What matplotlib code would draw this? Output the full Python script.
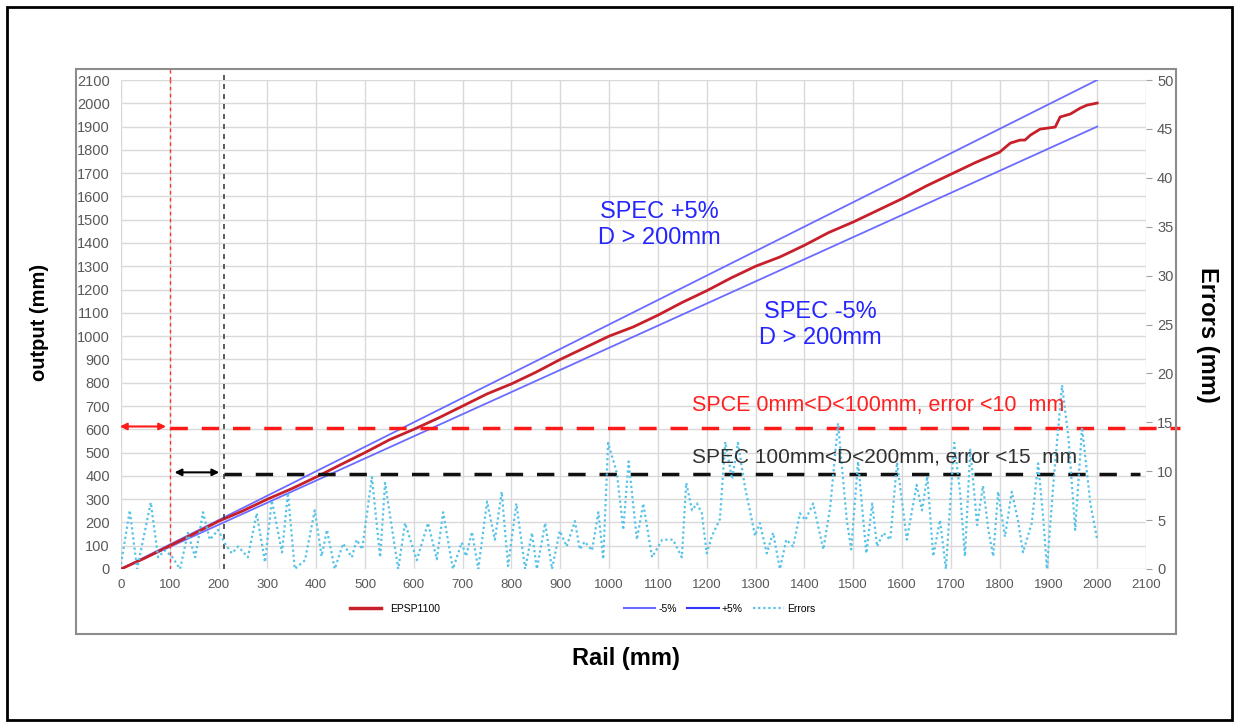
import numpy as np
import matplotlib
matplotlib.use('Agg')
import matplotlib.pyplot as plt
from matplotlib.lines import Line2D
from matplotlib.patches import Rectangle

plt.rcParams['font.family'] = ['Liberation Sans', 'DejaVu Sans']

# measured output (EPSP1100) vs rail position
rail_out = [0, 50, 100, 150, 200, 250, 300, 350, 400, 450, 500, 550, 600, 650, 700, 750,
            800, 850, 900, 950, 1000, 1050, 1100, 1150, 1200, 1250, 1300, 1350, 1400, 1450,
            1500, 1550, 1600, 1650, 1700, 1750, 1800, 1822, 1842, 1852, 1863, 1883, 1914,
            1924, 1945, 1965, 1979, 2000]
output = [0, 48, 100, 152, 205, 250, 300, 345, 395, 448, 500, 555, 600, 648, 700, 752,
          795, 845, 900, 950, 1000, 1040, 1090, 1145, 1195, 1250, 1300, 1340, 1390, 1445,
          1490, 1540, 1590, 1645, 1695, 1745, 1790, 1829, 1842, 1842, 1863, 1889, 1898,
          1941, 1954, 1979, 1992, 2001]

# spec limits
rail_spec = [0, 2000]
minus5 = [0, 1900]
plus5 = [0, 2100]

# errors (right axis)
rail_err = [0, 18, 33, 61, 76, 90, 104, 121, 137, 152, 168, 182, 199, 213, 227, 240, 260,
            278, 295, 309, 330, 342, 356, 377, 397, 411, 422, 438, 455, 473, 483, 494, 514,
            531, 541, 568, 582, 606, 629, 647, 660, 680, 698, 707, 719, 732, 750, 766, 780,
            793, 810, 828, 842, 852, 869, 883, 899, 913, 930, 940, 950, 965, 978, 988, 998,
            1016, 1029, 1040, 1057, 1070, 1088, 1109, 1131, 1149, 1158, 1170, 1180, 1190,
            1200, 1211, 1227, 1238, 1252, 1264, 1278, 1299, 1309, 1323, 1336, 1350, 1363,
            1377, 1391, 1402, 1418, 1439, 1453, 1469, 1487, 1496, 1510, 1527, 1539, 1549,
            1562, 1576, 1590, 1610, 1630, 1641, 1652, 1664, 1678, 1690, 1707, 1719, 1729,
            1740, 1754, 1766, 1777, 1787, 1797, 1811, 1825, 1838, 1848, 1866, 1879, 1890,
            1897, 1910, 1928, 1941, 1955, 1969, 1986, 2000]
errors = [0.5, 6.0, 0, 6.8, 1.2, 1.9, 1.3, 0, 3.7, 1.2, 5.8, 3.0, 4.0, 2.6, 1.6, 2.3, 1.2,
          5.7, 0.7, 7.0, 1.7, 7.8, 0, 0.9, 6.0, 1.3, 4.0, 0, 2.6, 1.2, 3.0, 2.0, 9.4,
          1.2, 8.8, 0, 4.7, 0.9, 4.7, 1.0, 5.8, 0, 2.7, 1.3, 3.8, 0, 6.9, 3.0, 7.9,
          0.3, 6.7, 0, 3.7, 0, 4.7, 0, 3.9, 2.3, 4.9, 2.0, 2.8, 1.9, 5.8, 1.0, 12.9,
          9.8, 4.0, 11.0, 3.0, 6.7, 1.2, 3.0, 3.0, 1.2, 8.8, 6.0, 6.7, 5.7,
          1.6, 3.4, 5.1, 13.0, 9.2, 12.9, 8.5, 3.4, 4.7, 1.6, 3.7, 0, 3.0,
          2.3, 5.7, 5.0, 6.7, 2.0, 6.3, 14.9, 5.0, 2.0, 11.0, 1.6, 6.7, 2.3,
          3.7, 3.0, 10.9, 3.0, 8.6, 6.0, 9.5, 1.3, 5.0, 0, 12.9, 7.9, 1.3,
          12.2, 4.5, 8.5, 4.0, 1.3, 7.9, 3.3, 7.9, 4.9, 1.7, 4.7, 10.8, 4.9,
          0, 8.6, 18.8, 13.5, 4.0, 14.5, 6.7, 3.0]

W, H = 1239, 726
fig = plt.figure(figsize=(W / 100, H / 100), dpi=100)

def fx(x):
    return x / W

def fy(y):
    return 1 - y / H

# outer frame and chart box
fig.patches.append(Rectangle((fx(7), fy(720)), fx(1232) - fx(7), fy(7) - fy(720),
                             transform=fig.transFigure, fill=False, ec='black', lw=2))
fig.patches.append(Rectangle((fx(76), fy(634)), fx(1176) - fx(76), fy(69) - fy(634),
                             transform=fig.transFigure, fill=False, ec='#8c8c8c', lw=1.5))

ax = fig.add_axes([fx(121), fy(569), fx(1146) - fx(121), fy(80) - fy(569)])
ax2 = ax.twinx()

ax.set_xlim(0, 2100)
ax.set_ylim(0, 2100)
ax2.set_ylim(0, 50)
ax.set_xticks(np.arange(0, 2101, 100))
ax.set_yticks(np.arange(0, 2101, 100))
ax2.set_yticks(np.arange(0, 51, 5))
ax.grid(True, color='#d9d9d9', lw=1)
ax.set_axisbelow(True)
for a in (ax, ax2):
    for s in a.spines.values():
        s.set_visible(False)
ax.tick_params(axis='x', length=0, labelsize=9.5, labelcolor='#595959', pad=7)
ax.tick_params(axis='y', length=0, labelsize=10.5, labelcolor='#595959', pad=8)
ax2.tick_params(axis='y', length=4, color='#a0a0a0', labelsize=10.5, labelcolor='#595959', pad=4)

ax.plot(rail_spec, minus5, color='#6b6bff', lw=1.3, zorder=3)
ax.plot(rail_spec, plus5, color='#6b6bff', lw=1.3, zorder=3)
ax.plot(rail_out, output, color='#c8202a', lw=2, zorder=4)
ax2.plot(rail_err, errors, color='#55c2e8', lw=1.6, ls=(0, (1, 1.3)), zorder=2)

# spec lines
ax.axvline(100, color='#ff3030', lw=1, ls=(0, (2.5, 2.5)), zorder=5)
ax.axvline(211, color='#404040', lw=1.2, ls=(0, (3, 3)), zorder=5)
ax.plot([100, 2170], [605, 605], color='#ff1a1a', lw=2.5, ls=(0, (5, 4)), clip_on=False, zorder=5)
ax.plot([211, 2088], [408, 408], color='#111111', lw=2.5, ls=(0, (5, 4)), clip_on=False, zorder=5)
ax.annotate('', xy=(-8, 612), xytext=(98, 612), annotation_clip=False,
            arrowprops=dict(arrowstyle='<|-|>', color='#ff1a1a', lw=1.5, mutation_scale=10))
ax.annotate('', xy=(104, 415), xytext=(207, 415), annotation_clip=False,
            arrowprops=dict(arrowstyle='<|-|>', color='black', lw=1.5, mutation_scale=10))

# dashed verticals reach up to chart box top
ax.plot([100, 100], [2100, 2148], color='#ff3030', lw=1, ls=(0, (2.5, 2.5)), clip_on=False)
ax.plot([211, 211], [2100, 2148], color='#404040', lw=1.2, ls=(0, (3, 3)), clip_on=False)

fig.text(fx(659), fy(225), 'SPEC +5%\nD > 200mm', color='#2525ff', fontsize=17,
         ha='center', va='center', linespacing=1.2)
fig.text(fx(820), fy(325), 'SPEC -5%\nD > 200mm', color='#2525ff', fontsize=17,
         ha='center', va='center', linespacing=1.2)
fig.text(fx(692), fy(405), 'SPCE 0mm<D<100mm, error <10  mm', color='#ff2020', fontsize=15.5,
         ha='left', va='center')
fig.text(fx(692), fy(457), 'SPEC 100mm<D<200mm, error <15  mm', color='#303030', fontsize=15,
         ha='left', va='center')

fig.text(fx(40), fy(322), 'output (mm)', rotation=90, fontsize=14.5, fontweight='bold',
         ha='center', va='center')
fig.text(fx(1207), fy(335), 'Errors (mm)', rotation=270, fontsize=17, fontweight='bold',
         ha='center', va='center')
fig.text(fx(626), fy(658), 'Rail (mm)', fontsize=17, fontweight='bold', ha='center', va='center')

# legend
h_red = Line2D([], [], color='#c8202a', lw=2.5)
h_m5 = Line2D([], [], color='#6b6bff', lw=1.5)
h_p5 = Line2D([], [], color='#3535ff', lw=1.5)
h_err = Line2D([], [], color='#55c2e8', lw=1.6, ls=(0, (1, 1.3)))
fig.legend([h_red], ['EPSP1100'], loc='center', bbox_to_anchor=(fx(395), fy(609)),
           frameon=False, fontsize=7.5, handlelength=3)
fig.legend([h_m5, h_p5, h_err], ['-5%', '+5%', 'Errors'], loc='center',
           bbox_to_anchor=(fx(720), fy(609)), frameon=False, fontsize=7.5, ncol=3,
           handlelength=3, handletextpad=0.3, columnspacing=1.0)

fig.savefig('out.png', dpi=100)
